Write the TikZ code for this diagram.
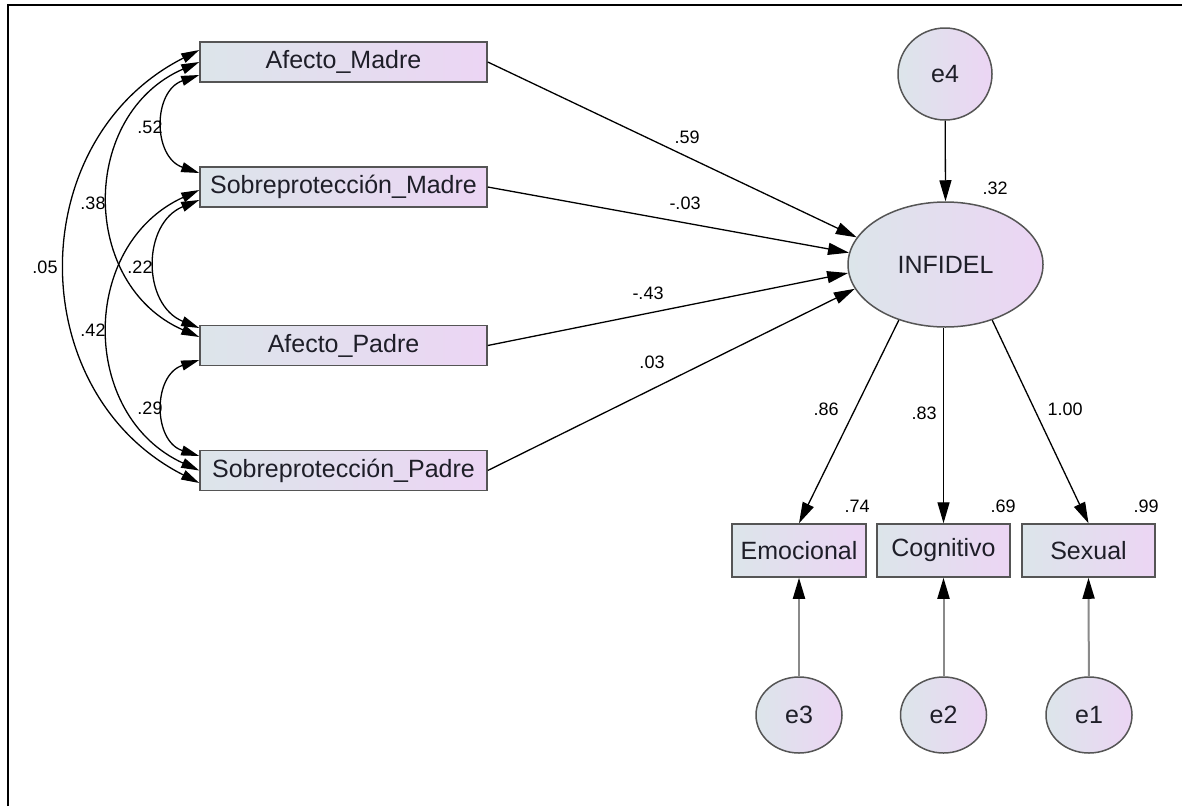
\documentclass[tikz,border=0pt]{standalone}
\usepackage{fontspec}
\setmainfont{Liberation Sans}
\usetikzlibrary{arrows.meta,shapes.geometric}
\definecolor{gl}{HTML}{DCE5EA}
\definecolor{gr}{HTML}{ECD5F4}
\definecolor{bord}{HTML}{555555}
\definecolor{txt}{HTML}{1E1E28}
\definecolor{errline}{HTML}{8A8A8A}
\begin{document}
\begin{tikzpicture}[x=1pt,y=-1pt,
  obs/.style={rectangle, draw=bord, line width=1.5pt, left color=gl, right color=gr,
    inner sep=0pt, text=txt, font=\fontsize{25pt}{30pt}\selectfont},
  lat/.style={ellipse, draw=bord, line width=1.5pt, left color=gl, right color=gr,
    inner sep=0pt, text=txt, font=\fontsize{25pt}{30pt}\selectfont},
  lbl/.style={inner sep=0pt, text=black, font=\fontsize{18pt}{22pt}\selectfont},
  reg/.style={draw=black, line width=1.3pt, -{Triangle[length=21pt,width=12pt]}},
  err/.style={draw=errline, line width=2pt, -{Triangle[length=21pt,width=12pt,color=black]}},
  cov/.style={draw=black, line width=1.3pt,
    {Triangle[length=18pt,width=10pt]}-{Triangle[length=18pt,width=10pt]}}]
\useasboundingbox (0,0) rectangle (1182,806);
\fill[white] (0,0) rectangle (1182,806);
% frame
\draw[line width=2.2pt, black] (8,806) -- (8,5.3) -- (1182,5.3);

% observed predictors
\node[obs, minimum width=287pt, minimum height=40pt] (am) at (343.5,62) {Afecto\_Madre};
\node[obs, minimum width=287pt, minimum height=40pt] (sm) at (343.5,187) {Sobreprotección\_Madre};
\node[obs, minimum width=287pt, minimum height=40pt] (ap) at (343.5,345.5) {Afecto\_Padre};
\node[obs, minimum width=287pt, minimum height=40pt] (sp) at (343.5,470.5) {Sobreprotección\_Padre};

% latent and errors
\node[lat, minimum width=195pt, minimum height=125pt] (inf) at (945.5,264.5) {INFIDEL};
\node[lat, minimum width=94pt, minimum height=92pt] (e4) at (945,74) {e4};

% indicators
\node[obs, minimum width=134pt, minimum height=53pt] (emo) at (799,550.5) {Emocional};
\node[obs, minimum width=133pt, minimum height=53pt] (cog) at (943.5,550.5) {Cognitivo};
\node[obs, minimum width=133pt, minimum height=53pt] (sex) at (1088.5,550.5) {Sexual};

\node[lat, minimum width=86pt, minimum height=76pt] (e3) at (799,715) {e3};
\node[lat, minimum width=86pt, minimum height=76pt] (e2) at (943.5,715) {e2};
\node[lat, minimum width=86pt, minimum height=76pt] (e1) at (1089,715) {e1};

% regressions
\draw[reg] (am.east) -- (inf.163);
\draw[reg] (sm.east) -- (inf.173);
\draw[reg] (ap.east) -- (inf.185);
\draw[reg] (sp.east) -- (inf.195);
\draw[reg] (e4) -- (inf.north);
\draw[reg] (inf.230) -- (emo.north);
\draw[reg] (cog.north |- inf.south) -- (cog.north);
\draw[reg] (inf.310) -- (sex.north);
\draw[err] (e3) -- (emo.south);
\draw[err] (e2) -- (cog.south);
\draw[err] (e1) -- (sex.south);

% covariances
\draw[cov] ([yshift=12pt]am.west) .. controls +(-177.2,89.8) and +(-177.2,-89.8) .. ([yshift=-12.5pt]sp.west);
\draw[cov] (am.west) .. controls +(-119.9,52.3) and +(-119.9,-52.3) .. ([yshift=8.5pt]ap.west);
\draw[cov] ([yshift=-13pt]am.west) .. controls +(-46.7,16) and +(-46.7,-16) .. ([yshift=14pt]sm.west);
\draw[cov] ([yshift=-3pt]sm.west) .. controls +(-120.1,54.8) and +(-120.1,-54.8) .. (sp.west);
\draw[cov] ([yshift=-13pt]sm.west) .. controls +(-57.4,23.3) and +(-57.4,-23.3) .. ([yshift=17.5pt]ap.west);
\draw[cov] ([yshift=-14.5pt]ap.west) .. controls +(-46.6,15) and +(-46.6,-15) .. ([yshift=14.5pt]sp.west);

% labels
\node[lbl] (c52) at (150,127) {.52};
\node[lbl] (c38) at (93,203) {.38};
\node[lbl] (c05) at (45,267) {.05};
\node[lbl] (c22) at (140,267) {.22};
\node[lbl] (c42) at (93,330) {.42};
\node[lbl] (c29) at (150,408) {.29};
\node[lbl] (r59) at (687,137) {.59};
\node[lbl] (r03a) at (685,203) {-.03};
\node[lbl] (r43) at (648,293) {-.43};
\node[lbl] (r03b) at (652,362) {.03};
\node[lbl] (s32) at (995,188) {.32};
\node[lbl] (l86) at (826,409) {.86};
\node[lbl] (l83) at (924,413) {.83};
\node[lbl] (l100) at (1065,409) {1.00};
\node[lbl] (s74) at (857,506) {.74};
\node[lbl] (s69) at (1003,506) {.69};
\node[lbl] (s99) at (1146,506) {.99};
\end{tikzpicture}
\end{document}
